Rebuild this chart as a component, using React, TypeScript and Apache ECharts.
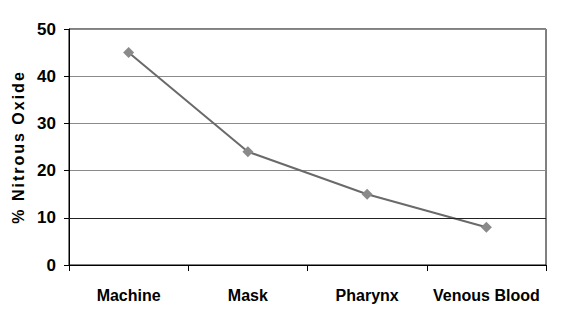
import React, { useEffect, useRef } from "react";
import * as echarts from "echarts";

const categories = ["Machine", "Mask", "Pharynx", "Venous Blood"];
const values = [45, 24, 15, 8];
const yAxisName = "% Nitrous Oxide";

export default function App() {
  const ref = useRef<HTMLDivElement>(null);
  useEffect(() => {
    if (!ref.current) return;
    const chart = echarts.init(ref.current, undefined, { renderer: "svg" });
    chart.setOption({
      animation: false,
      backgroundColor: "#fff",
      grid: {
        left: 69,
        right: 16,
        top: 29,
        bottom: 52,
        show: true,
        borderColor: "#000",
        borderWidth: 1,
      },
      xAxis: {
        type: "category",
        data: categories,
        boundaryGap: true,
        axisLine: { lineStyle: { color: "#000", width: 1 } },
        axisTick: { show: true, length: 6, interval: 0, lineStyle: { color: "#000" } },
        axisLabel: {
          interval: 0,
          hideOverlap: false,
          color: "#000",
          fontFamily: "Liberation Sans, Arial, sans-serif",
          fontWeight: "bold",
          fontSize: 16,
          margin: 22,
        },
      },
      yAxis: {
        type: "value",
        min: 0,
        max: 50,
        interval: 10,
        name: yAxisName,
        nameLocation: "middle",
        nameRotate: 90,
        nameGap: 37,
        nameTextStyle: {
          color: "#000",
          fontFamily: "Liberation Sans, Arial, sans-serif",
          fontWeight: "bold",
          fontSize: 16,
        },
        axisLine: { show: true, lineStyle: { color: "#000", width: 1 } },
        axisTick: { show: true, length: 5, lineStyle: { color: "#000" } },
        axisLabel: {
          color: "#000",
          fontFamily: "Liberation Sans, Arial, sans-serif",
          fontWeight: "bold",
          fontSize: 17,
          margin: 13,
        },
        splitLine: { show: true, lineStyle: { color: "#8a8a8a", width: 1 } },
      },
      series: [
        {
          type: "line",
          data: values,
          symbol: "diamond",
          symbolSize: 11,
          itemStyle: { color: "#8a8a8a" },
          lineStyle: { color: "#6a6a6a", width: 2 },
          markLine: {
            silent: true,
            symbol: "none",
            label: { show: false },
            lineStyle: { color: "#222", width: 1, type: "solid" },
            data: [{ yAxis: 10 }],
          },
          z: 3,
        },
      ],
    });
    const texts = ref.current.querySelectorAll("text");
    texts.forEach((t) => {
      if (t.textContent === yAxisName) {
        (t as SVGTextElement).style.letterSpacing = "2px";
      }
    });
    return () => chart.dispose();
  }, []);
  return <div ref={ref} style={{ width: 562, height: 317, position: "absolute", left: 0, top: 0 }} />;
}
